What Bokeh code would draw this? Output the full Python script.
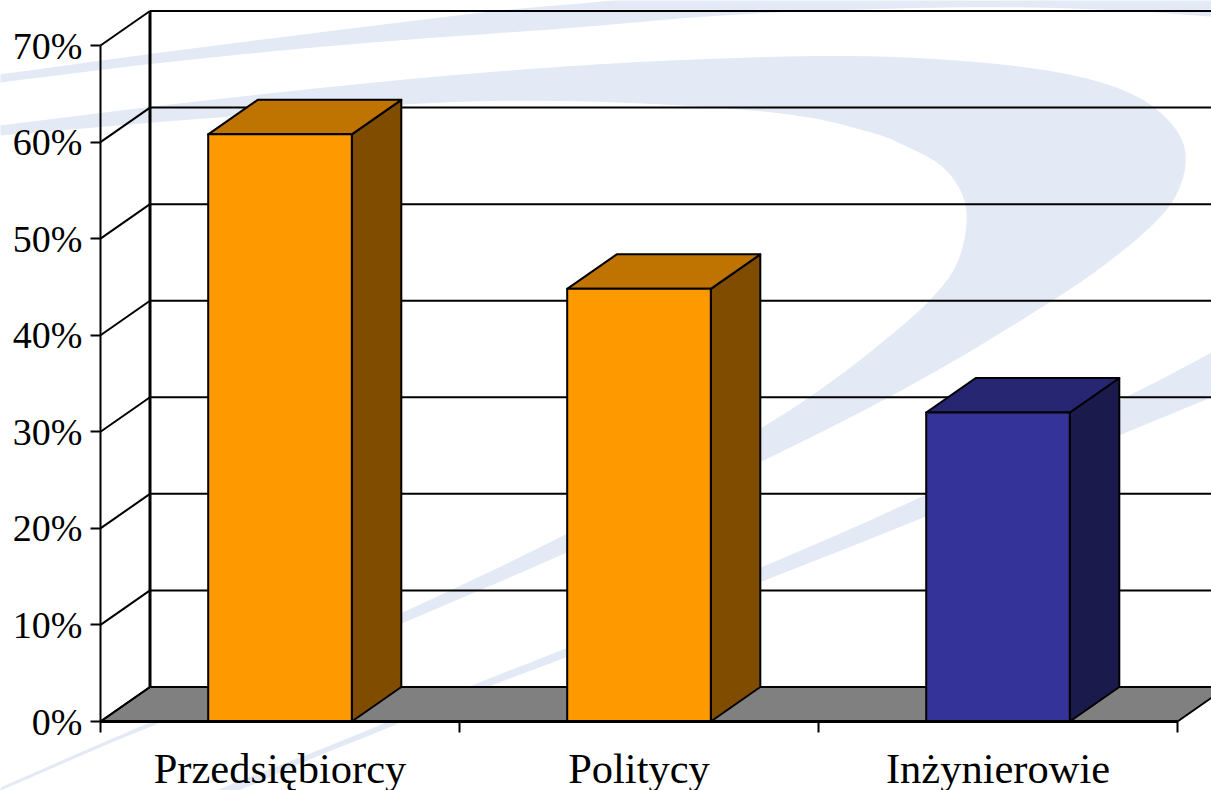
from bokeh.embed import file_html
from bokeh.models import FixedTicker, PrintfTickFormatter, Range1d
from bokeh.plotting import figure
from bokeh.resources import INLINE

# Survey shares by profession, in percent
categories = ["Przedsiębiorcy", "Politycy", "Inżynierowie"]
shares = [60.8, 44.8, 32.0]
front_colors = ["#FF9900", "#FF9900", "#333399"]
top_colors = ["#BF7300", "#BF7300", "#262673"]
side_colors = ["#804D00", "#804D00", "#1A1A4D"]
y_ticks = [0, 10, 20, 30, 40, 50, 60, 70]

# Scale of the chart: page pixels per category and per percentage point
PX_PER_CAT = 359
PX_PER_PCT = 676 / 70
ORIGIN_PX = (100, 721)

# Oblique projection of the 3D box: depth offset in data units
DEPTH_X = 49.5 / PX_PER_CAT
DEPTH_Y = 34.5 / PX_PER_PCT
BAR_WIDTH = 0.4

SWOOSH_COLOR = "#E3EAF5"
# Decorative brand swooshes behind the chart, in page pixels (they run past the page edges)
swoosh_outer = [
    (-20, 127), (0, 125), (150, 106), (350, 84), (503, 70), (656, 60), (809, 55), (900, 56), (1000, 63),
    (1080, 75), (1140, 95), (1175, 125), (1188, 155), (1178, 195), (1150, 228), (1100, 268), (1050, 302),
    (922, 380), (759, 463), (566, 553), (401, 623), (230, 695), (134, 732), (0, 790), (-20, 799),
    (-20, 796), (0, 787), (134, 728), (230, 690), (401, 613), (566, 535), (759, 430), (834, 380),
    (900, 327), (932, 298), (958, 265), (968, 220), (962, 190), (940, 162), (900, 143), (886, 136),
    (809, 115), (694, 105), (541, 99), (402, 103), (150, 122), (0, 135), (-20, 137),
]
swoosh_top = [
    (-20, 76), (0, 74), (150, 53), (350, 28), (503, 9), (618, 0), (700, -10), (1240, -10), (1240, 18),
    (1211, 16), (1100, 8), (950, 6), (733, 13), (580, 27), (350, 43), (150, 63), (0, 82), (-20, 84),
]
swoosh_lower = [
    (1240, 337), (1211, 352), (1130, 395), (922, 497), (759, 568), (566, 648), (470, 685), (384, 723),
    (300, 757), (200, 795), (230, 795), (300, 762), (384, 729), (490, 685), (566, 657), (759, 582),
    (922, 518), (1118, 435), (1211, 397), (1240, 384),
]


def smooth(shape, rounds=2):
    """Round off a closed outline by corner cutting."""
    for _ in range(rounds):
        cut = []
        for (ax, ay), (bx, by) in zip(shape, shape[1:] + shape[:1]):
            cut.append((0.75 * ax + 0.25 * bx, 0.75 * ay + 0.25 * by))
            cut.append((0.25 * ax + 0.75 * bx, 0.25 * ay + 0.75 * by))
        shape = cut
    return shape


def page_to_data(shape):
    """Convert page pixel points into the chart's data coordinates."""
    xs = [(pt[0] - ORIGIN_PX[0]) / PX_PER_CAT for pt in shape]
    ys = [(ORIGIN_PX[1] - pt[1]) / PX_PER_PCT for pt in shape]
    return xs, ys


X_START, Y_START = [v[0] for v in page_to_data([(0, 790)])]
X_END, Y_END = [v[0] for v in page_to_data([(1211, 0)])]

p = figure(
    width=1211, height=790, frame_width=1211, frame_height=790,
    min_border_left=0, min_border_right=0, min_border_top=0, min_border_bottom=0,
    x_range=Range1d(X_START, X_END), y_range=Range1d(Y_START, Y_END),
    output_backend="svg", toolbar_location=None,
)
p.outline_line_color = None
p.grid.visible = False

for shape in (swoosh_outer, swoosh_top, swoosh_lower):
    sx, sy = page_to_data(smooth(shape))
    p.patch(sx, sy, fill_color=SWOOSH_COLOR, line_color=None)

# Floor
n = len(categories)
p.patch([0, n, n + DEPTH_X, DEPTH_X], [0, 0, DEPTH_Y, DEPTH_Y],
        fill_color="#808080", line_color="black", line_width=2)

# Side wall diagonals, back wall gridlines and the back wall edge
p.segment([0] * len(y_ticks), y_ticks, [DEPTH_X] * len(y_ticks), [v + DEPTH_Y for v in y_ticks],
          line_color="black", line_width=2)
p.segment([DEPTH_X] * len(y_ticks), [v + DEPTH_Y for v in y_ticks], [X_END] * len(y_ticks),
          [v + DEPTH_Y for v in y_ticks], line_color="black", line_width=2)
p.line([DEPTH_X, DEPTH_X], [DEPTH_Y, y_ticks[-1] + DEPTH_Y], line_color="black", line_width=3)

# Bars as three visible box faces
for i, share in enumerate(shares):
    x0 = i + 0.5 - BAR_WIDTH / 2
    x1 = i + 0.5 + BAR_WIDTH / 2
    p.patch([x1, x1 + DEPTH_X, x1 + DEPTH_X, x1], [0, DEPTH_Y, share + DEPTH_Y, share],
            fill_color=side_colors[i], line_color="black", line_width=2, line_join="round")
    p.patch([x0, x1, x1 + DEPTH_X, x0 + DEPTH_X], [share, share, share + DEPTH_Y, share + DEPTH_Y],
            fill_color=top_colors[i], line_color="black", line_width=2, line_join="round")
    p.patch([x0, x1, x1, x0], [0, 0, share, share],
            fill_color=front_colors[i], line_color="black", line_width=2, line_join="round")

FONT = "Liberation Serif"

yax = p.yaxis[0]
yax.fixed_location = 0
yax.ticker = FixedTicker(ticks=y_ticks)
yax.formatter = PrintfTickFormatter(format="%d%%")
yax.bounds = (0, 70)
yax.axis_line_color = "black"
yax.axis_line_width = 2
yax.major_tick_line_color = "black"
yax.major_tick_line_width = 2
yax.major_tick_in = 0
yax.major_tick_out = 10
yax.minor_tick_line_color = None
yax.major_label_text_font = FONT
yax.major_label_text_font_size = "38px"
yax.major_label_text_color = "black"
yax.major_label_standoff = 8

xax = p.xaxis[0]
xax.fixed_location = 0
xax.ticker = FixedTicker(ticks=[i + 0.5 for i in range(n)], minor_ticks=list(range(n + 1)))
xax.major_label_overrides = {i + 0.5: c for i, c in enumerate(categories)}
xax.bounds = (0, n)
xax.axis_line_color = "black"
xax.axis_line_width = 3
xax.major_tick_line_color = None
xax.major_tick_in = 0
xax.major_tick_out = 0
xax.minor_tick_line_color = "black"
xax.minor_tick_line_width = 2
xax.minor_tick_in = 0
xax.minor_tick_out = 11
xax.major_label_text_font = FONT
xax.major_label_text_font_size = "42.5px"
xax.major_label_text_color = "black"
xax.major_label_standoff = 12

open("out.html", "w").write(file_html(p, INLINE))
